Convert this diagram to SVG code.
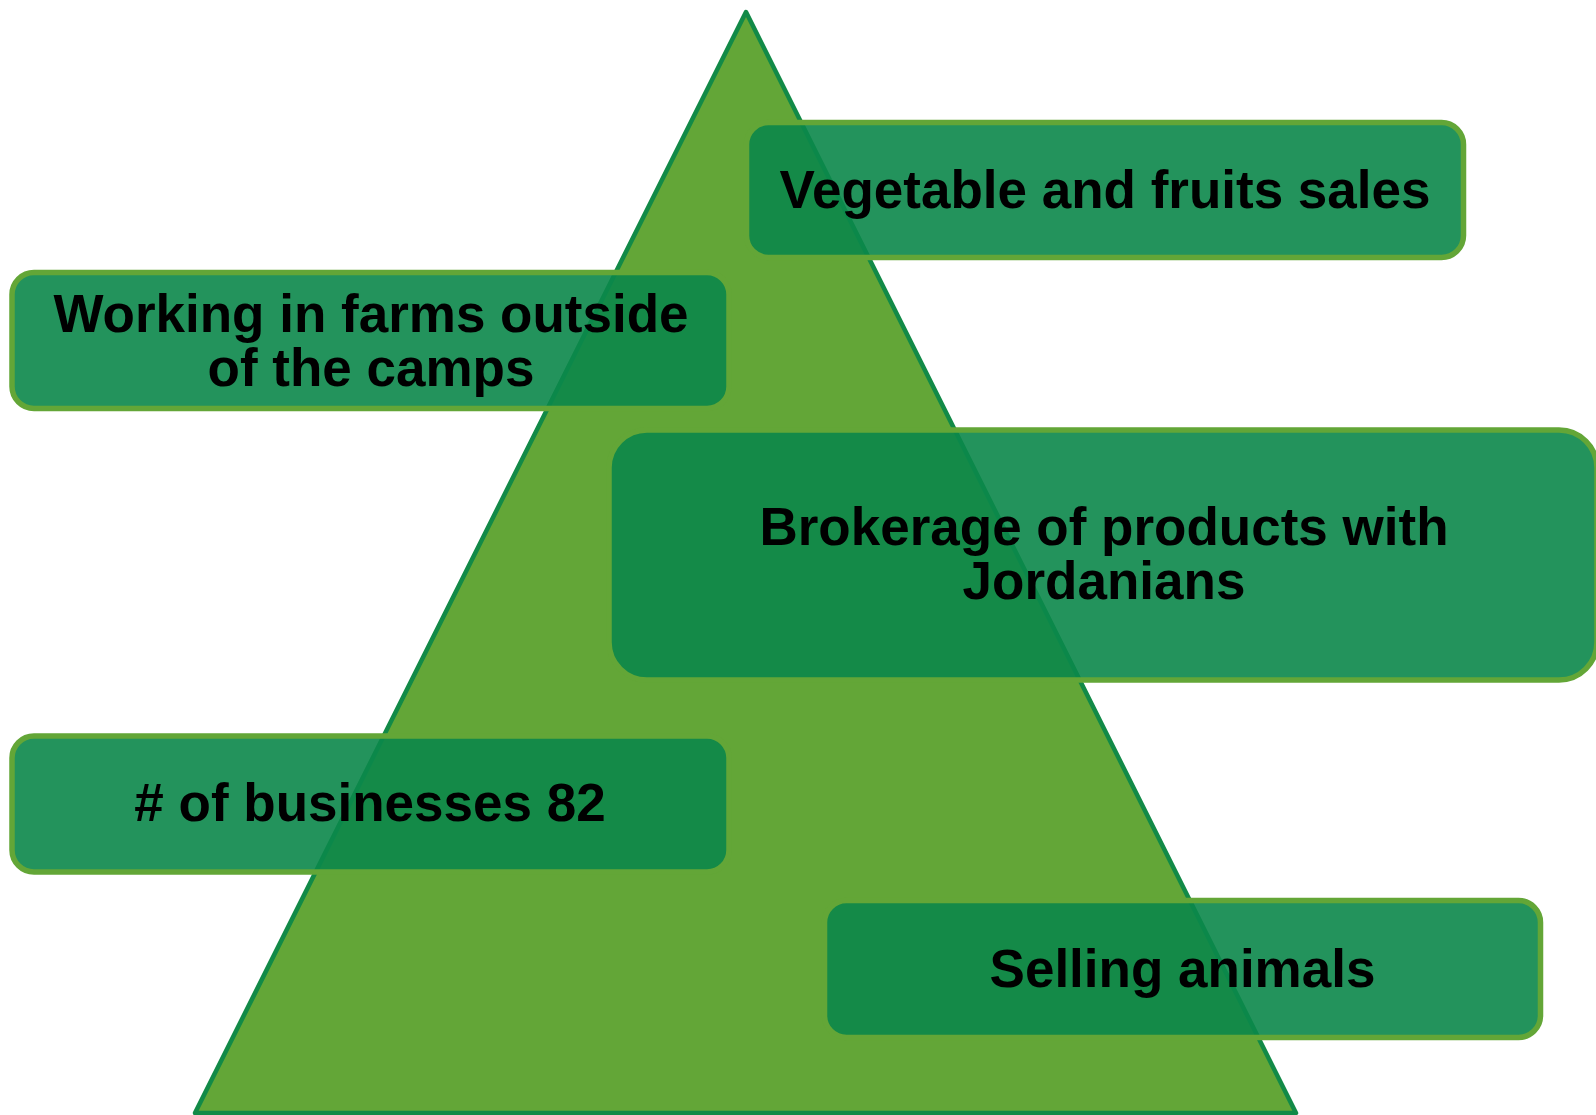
<svg xmlns="http://www.w3.org/2000/svg" width="1596" height="1115" viewBox="0 0 1596 1115">
<style>
.box{fill:rgb(11,135,74);fill-opacity:0.9;stroke:#63a637;stroke-width:5.5}
.lbl{font-family:"Liberation Sans",Arial,sans-serif;font-weight:bold;font-size:53px;fill:#000;text-anchor:middle}
</style>
<rect width="1596" height="1115" fill="#ffffff"/>
<g id="pyramid">
<polygon points="746,12 1296,1113 195,1113" fill="#63a637" stroke="#128a47" stroke-width="4.5" stroke-linejoin="round"/>
</g>
<g id="connectors"/>
<g id="node-vegetable">
<rect class="box" x="746.5" y="122.5" width="717" height="135" rx="22"/>
<text class="lbl" x="1105" y="208">Vegetable and fruits sales</text>
</g>
<g id="node-working">
<rect class="box" x="12" y="272.5" width="717" height="136" rx="22"/>
<text class="lbl" x="371" y="331.5">Working in farms outside</text>
<text class="lbl" x="371" y="385.5">of the camps</text>
</g>
<g id="node-brokerage">
<rect class="box" x="609" y="430" width="988" height="250" rx="38"/>
<text class="lbl" x="1104" y="545">Brokerage of products with</text>
<text class="lbl" x="1104" y="599">Jordanians</text>
</g>
<g id="node-businesses">
<rect class="box" x="12" y="736" width="717" height="136" rx="22"/>
<text class="lbl" x="370" y="821"># of businesses 82</text>
</g>
<g id="node-animals">
<rect class="box" x="824.5" y="900.5" width="716" height="137" rx="22"/>
<text class="lbl" x="1182.5" y="987">Selling animals</text>
</g>
</svg>
